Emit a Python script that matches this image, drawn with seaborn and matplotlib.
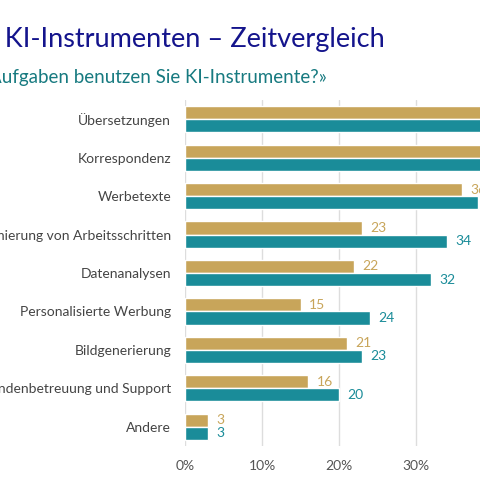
import matplotlib
matplotlib.use("Agg")
import matplotlib.pyplot as plt
import seaborn as sns
import pandas as pd

categories = ["Übersetzungen", "Korrespondenz", "Werbetexte",
              "Optimierung von Arbeitsschritten", "Datenanalysen",
              "Personalisierte Werbung", "Bildgenerierung",
              "Kundenbetreuung und Support", "Andere"]
years = ["2023", "2024"]
values_2023 = [45, 42, 36, 23, 22, 15, 21, 16, 3]
values_2024 = [55, 50, 38, 34, 32, 24, 23, 20, 3]
ticks = [0, 10, 20, 30, 40, 50, 60]

gold = "#C8A55A"
teal = "#1A8C99"

df = pd.DataFrame({
    "Kategorie": categories * 2,
    "Jahr": [years[0]] * len(categories) + [years[1]] * len(categories),
    "Wert": values_2023 + values_2024,
})

sns.set_style("white")
plt.rcParams["font.family"] = ["Lato", "DejaVu Sans"]

fig = plt.figure(figsize=(4.8, 4.8), dpi=100)
# axes extends past the right edge on purpose (cropped view)
xmax = 60
ax = fig.add_axes([185 / 480, 1 - 446 / 480, xmax * 7.7 / 480, 346 / 480])

sns.barplot(data=df, y="Kategorie", x="Wert", hue="Jahr", order=categories,
            hue_order=years, palette=[gold, teal], width=0.68, ax=ax,
            legend=False, saturation=1)

for cont, col in zip(ax.containers, [gold, teal]):
    ax.bar_label(cont, padding=6, color=col, fontsize=10)

ax.set_xlim(0, xmax)
ax.set_xticks(ticks)
ax.set_xticklabels([f"{t}%" for t in ticks], color="#555555", fontsize=10)
ax.tick_params(axis="x", length=0, pad=10)
ax.tick_params(axis="y", length=0, pad=10, labelsize=10, labelcolor="#444444")
ax.set_xlabel("")
ax.set_ylabel("")
ax.grid(axis="x", color="#dddddd", linewidth=1)
ax.set_axisbelow(True)
for s in ax.spines.values():
    s.set_visible(False)

fig.text(385 / 480, 1 - 40 / 480, "Nutzung von KI-Instrumenten – Zeitvergleich",
         ha="right", va="center", fontsize=19.5, color="#14148C")
fig.text(327 / 480, 1 - 77 / 480, "«Für welche Aufgaben benutzen Sie KI-Instrumente?»",
         ha="right", va="center", fontsize=13.5, color="#177A80")

fig.savefig("out.png", dpi=100)
